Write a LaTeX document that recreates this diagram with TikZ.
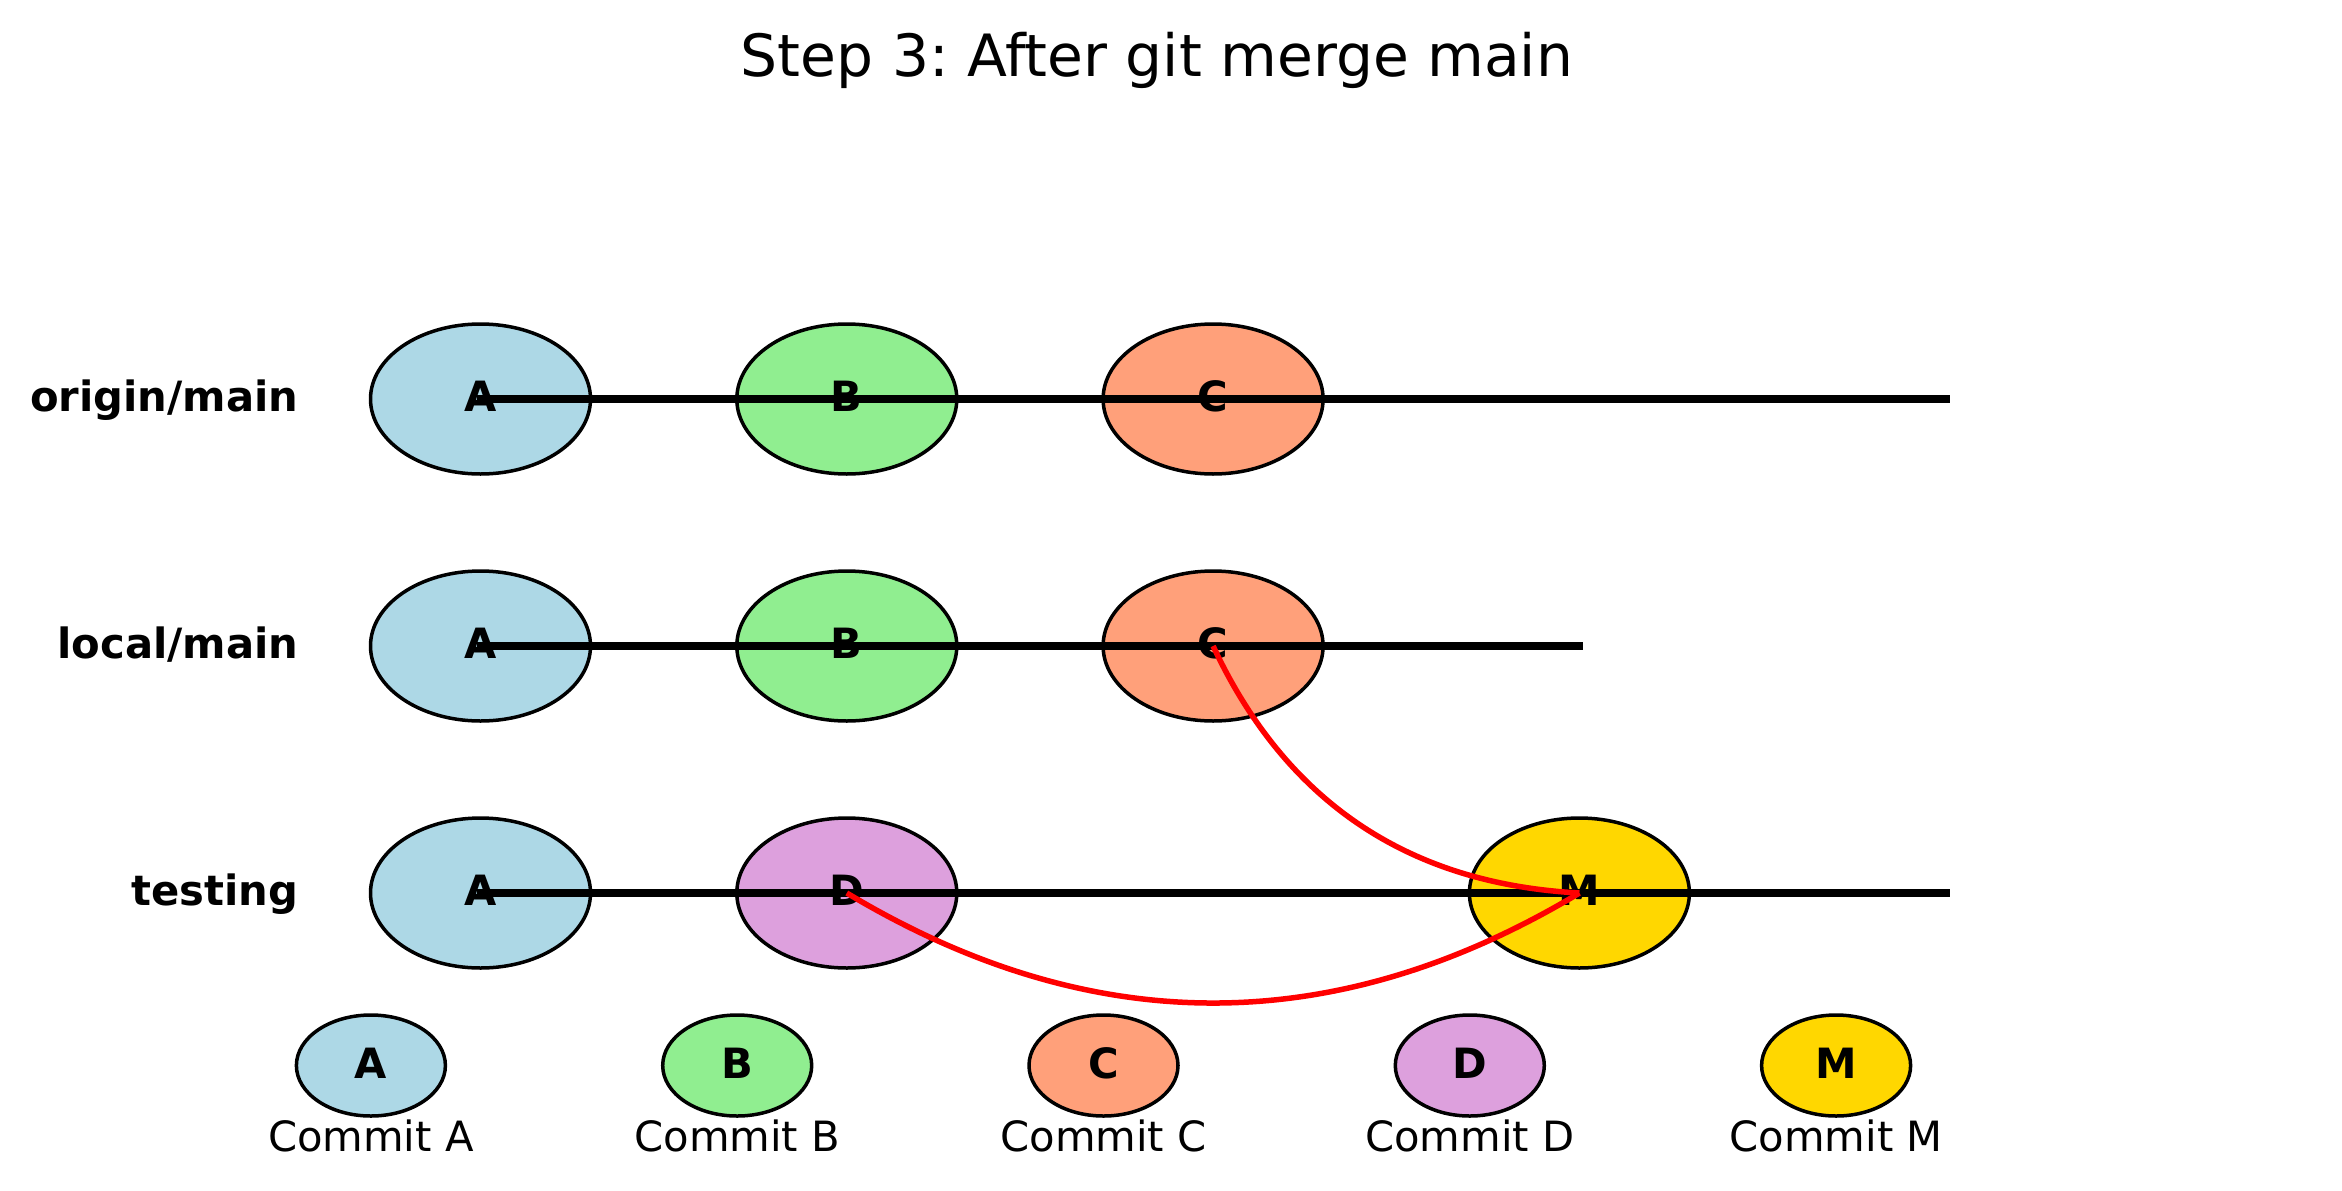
\documentclass[tikz,border=0pt]{standalone}
\usepackage{fontspec}
\setmainfont{DejaVu Sans}
\usetikzlibrary{shapes.geometric}
\definecolor{cA}{HTML}{ADD8E6}
\definecolor{cB}{HTML}{90EE90}
\definecolor{cC}{HTML}{FFA07A}
\definecolor{cD}{HTML}{DDA0DD}
\definecolor{cM}{HTML}{FFD700}
\frenchspacing
\tikzset{
  commit/.style={ellipse, draw=black, line width=3.5pt, minimum width=220pt, minimum height=150pt,
    inner sep=0pt, text height=25pt, text depth=0pt, font=\fontsize{41.7}{50}\selectfont\bfseries},
  legcommit/.style={ellipse, draw=black, line width=3.5pt, minimum width=149pt, minimum height=101pt,
    inner sep=0pt, text height=25.5pt, text depth=0pt, font=\fontsize{41.7}{50}\selectfont\bfseries},
  rowlabel/.style={anchor=base east, inner sep=0pt, font=\fontsize{41.7}{50}\selectfont\bfseries},
  leglabel/.style={anchor=base, inner sep=0pt, font=\fontsize{41.7}{50}\selectfont},
  branch/.style={line width=8pt, line cap=rect, draw=black},
  mergeline/.style={line width=5.5pt, draw=red}
}
\begin{document}
\begin{tikzpicture}[x=1pt,y=-1pt]
\useasboundingbox (0,0) rectangle (2342,1191);
\node[anchor=base, inner sep=0pt, font=\fontsize{58.3}{70}\selectfont] (title) at (1157,76) {Step 3: After git merge main};

% row labels
\node[rowlabel] (lo) at (298.5,411.5) {origin/main};
\node[rowlabel] (ll) at (298.5,658.5) {local/main};
\node[rowlabel] (lt) at (298.5,905.5) {testing};

% origin/main
\node[commit, fill=cA] (oA) at (480.5,399) {A};
\node[commit, fill=cB] (oB) at (846.8,399) {B};
\node[commit, fill=cC] (oC) at (1213.1,399) {C};
\coordinate (oEnd) at (1946,399);
% local/main
\node[commit, fill=cA] (lA) at (480.5,646) {A};
\node[commit, fill=cB] (lB) at (846.8,646) {B};
\node[commit, fill=cC] (lC) at (1213.1,646) {C};
\coordinate (lEnd) at (1579.4,646);
% testing
\node[commit, fill=cA] (tA) at (480.5,893) {A};
\node[commit, fill=cD] (tD) at (846.8,893) {D};
\node[commit, fill=cM] (tM) at (1579.4,893) {M};
\coordinate (tEnd) at (1946,893);

% branch lines
\draw[branch] (oA.center) -- (oEnd);
\draw[branch] (lA.center) -- (lEnd);
\draw[branch] (tA.center) -- (tEnd);

% merge parents
\draw[mergeline] (lC.center) .. controls +(72.6,155.5) and +(-171.4,-9.1) .. (tM.center);
\draw[mergeline] (tD.center) .. controls +(244.3,146.7) and +(-244.3,146.7) .. (tM.center);

% legend
\node[legcommit, fill=cA] (gA) at (370.9,1065.5) {A};
\node[legcommit, fill=cB] (gB) at (737.2,1065.5) {B};
\node[legcommit, fill=cC] (gC) at (1103.5,1065.5) {C};
\node[legcommit, fill=cD] (gD) at (1469.8,1065.5) {D};
\node[legcommit, fill=cM] (gM) at (1836.1,1065.5) {M};
\node[leglabel] (tgA) at (370.9,1151.7) {Commit A};
\node[leglabel] (tgB) at (737.2,1151.7) {Commit B};
\node[leglabel] (tgC) at (1103.5,1151.7) {Commit C};
\node[leglabel] (tgD) at (1469.8,1151.7) {Commit D};
\node[leglabel] (tgM) at (1836.1,1151.7) {Commit M};
\end{tikzpicture}
\end{document}
